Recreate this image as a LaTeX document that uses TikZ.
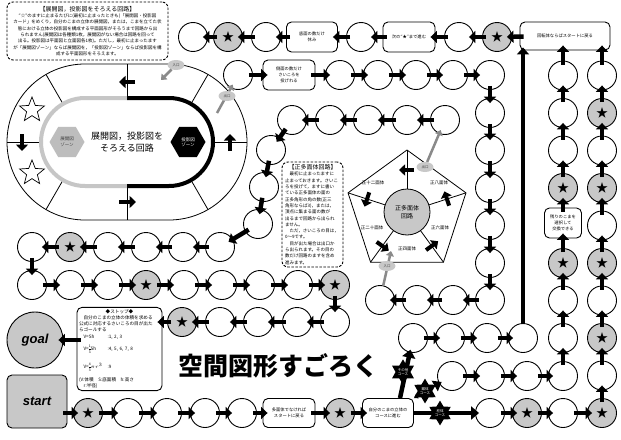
\documentclass[tikz,border=0pt]{standalone}
\usepackage{fontspec}
\newfontfamily\jp{Noto Sans CJK JP}
\newfontfamily\lsans{Liberation Sans}
\usetikzlibrary{arrows.meta,shapes.geometric,calc}
\definecolor{sgray}{HTML}{C8C8C8}
\definecolor{hgray}{HTML}{BDBDBD}
\definecolor{tgray}{HTML}{C6C6C6}
\definecolor{agray}{HTML}{8A8A8A}
\newcommand{\vfr}[2]{\ensuremath{\vcenter{\hbox{\fontsize{3.4}{5.2}\selectfont\begin{tabular}{@{}c@{}}#1\\\hline #2\end{tabular}}}}}
\tikzset{
 sq/.style={circle, draw, line width=0.9pt, fill=white, minimum size=29pt, inner sep=0pt},
 sqs/.style={sq, fill=sgray, font=\jp\fontsize{12}{12}\selectfont},
 fa/.style={line width=4.5pt, -{Triangle[width=12pt,length=6.5pt]}, shorten <=-4pt, shorten >=-5pt},
 darr/.style={line width=4.5pt, -{Triangle[width=12pt,length=6.5pt]}},
 rbox/.style={draw, line width=0.9pt, rounded corners=5pt, fill=white, align=center, font=\jp\fontsize{4.3}{5.8}\selectfont, inner sep=1pt},
 lbl/.style={ellipse, fill=sgray, minimum width=17pt, minimum height=10pt, inner sep=0pt, font=\jp\fontsize{3.5}{4}\selectfont, text=black!75},
 garr/.style={draw=agray, line width=2.5pt, -{Triangle[width=8pt,length=5pt]}},
 badge/.style={star, star points=6, star point ratio=1.7, fill=black, minimum size=22pt, inner sep=0pt, text=white, align=center, font=\jp\fontsize{3.5}{4.1}\selectfont},
 dbox/.style={draw, line width=0.9pt, dash pattern=on 2.5pt off 1.5pt, rounded corners=6pt, fill=white},
 plbl/.style={font=\jp\fontsize{4.5}{5}\selectfont},
}
\begin{document}
\begin{tikzpicture}[x=1pt,y=-1pt]
\useasboundingbox (0,0) rectangle (621,439);

% ---------- note box (top left)
\node[dbox, minimum width=161pt, minimum height=58pt, inner sep=2pt, align=center, font=\jp\fontsize{4.5}{6.3}\selectfont] (note1) at (87.5,31) {{\fontsize{6}{7}\selectfont 【展開図，投影図をそろえる回路】}\\
“☆”のますに止まるたびに(最初に止まったときも)「展開図・投影図\\
カード」をめくり，自分のこまの立体の展開図，または，こまを立てた状\\
態における立体の投影図を構成する平面図形がそろうまで回路から出\\
られません(展開図は各種類1枚，展開図がない場合は回路を回って\\
出る。投影図は平面図と立面図各1枚)。ただし，最初に止まったます\\
が「展開図ゾーン」ならば展開図を，「投影図ゾーン」ならば投影図を構\\
成する平面図形をそろえます。};

% ---------- oval circuit
\draw[line width=0.8pt, fill=white, rounded corners=78pt] (7,64) rectangle (247,220);
\draw[line width=0.8pt] (127,64) -- (127,98) (127,186) -- (127,220) (7,142) -- (41,142) (213,142) -- (247,142);
\draw[line width=0.8pt, shift={(85,142)}] (240:44) -- (240:78) (120:44) -- (120:78);
\draw[line width=0.8pt, shift={(169,142)}] (300:44) -- (300:78) (60:44) -- (60:78);
\begin{scope}
\clip (0,0) rectangle (127,230);
\draw[tgray, line width=4pt, rounded corners=44pt] (41,98) rectangle (213,186);
\end{scope}
\begin{scope}
\clip (127,0) rectangle (260,230);
\draw[black, line width=4pt, rounded corners=44pt] (41,98) rectangle (213,186);
\end{scope}
\node[regular polygon, regular polygon sides=6, fill=hgray, minimum size=35pt, inner sep=0pt, align=center, text=black!75, font=\jp\fontsize{4.5}{5.5}\selectfont] (zt) at (67,142) {展開図\\ゾーン};
\node[regular polygon, regular polygon sides=6, fill=black, minimum size=35pt, inner sep=0pt, align=center, text=white, font=\jp\fontsize{4.5}{5.5}\selectfont] (zp) at (188,142) {投影図\\ゾーン};
\node[align=center, font=\jp\fontsize{9}{12}\selectfont] (ct) at (127,142) {展開図，投影図を\\そろえる回路};
\node[star, star points=5, star point ratio=2.3, draw, line width=0.7pt, minimum size=26pt, inner sep=0pt] (os1) at (32,110) {};
\node[star, star points=5, star point ratio=2.3, draw, line width=0.7pt, minimum size=26pt, inner sep=0pt] (os2) at (32,173) {};
\draw[darr] (135,82) -- (119,82);
\draw[darr] (22,134) -- (22,151);
\draw[darr] (119,202) -- (136,202);
\draw[darr] (230,151) -- (230,134);

% ---------- pentagon circuit
\coordinate (pc) at (407,212);
\draw[line width=0.8pt, fill=white] ($(pc)+(270:62)$) -- ($(pc)+(342:62)$) -- ($(pc)+(54:62)$) -- ($(pc)+(126:62)$) -- ($(pc)+(198:62)$) -- cycle;
\foreach \a in {270,342,54,126,198} \draw[line width=0.8pt] (pc) -- ($(pc)+(\a:62)$);
\node[circle, draw, line width=0.8pt, fill=sgray, minimum size=46pt, align=center, font=\jp\fontsize{6}{8}\selectfont] (pcn) at (pc) {正多面体\\回路};
\node[plbl] (p12) at (373,183) {正十二面体};
\node[plbl] (p8) at (439,183) {正八面体};
\node[plbl] (p6) at (440,228) {正六面体};
\node[plbl] (p20) at (372,228) {正二十面体};
\node[plbl] (p4) at (407,249) {正四面体};
\foreach \a in {270,342,54,126,198} \draw[line width=4pt, -{Triangle[width=11pt,length=6pt]}] ($(pc)+(\a:42)+(\a+90:7)$) -- ($(pc)+(\a:42)+(\a-90:8)$);

% ---------- dashed note (pentagon)
\node[dbox, minimum width=61pt, minimum height=105pt, inner sep=2pt, align=left, font=\jp\fontsize{4.5}{6.3}\selectfont] (note2) at (312.5,214.5) {\makebox[55pt]{\fontsize{6}{7}\selectfont 【正多面体回路】}\\
　最初に止まったますに\\
止まっておきます。さいこ\\
ろを投げて，ますに書い\\
ている正多面体の面の\\
正多角形の角の数(正三\\
角形ならば3)，または，\\
頂点に集まる面の数が\\
出るまで回路から出られ\\
ません。\\
　ただ，さいころの目は，\\
0〜9です。\\
　目が出た場合は出口か\\
ら出られます。その目の\\
数だけ回路のますを含め\\
進みます。};

% ---------- title
\node[font=\jp\bfseries\fontsize{25}{25}\selectfont] (title) at (278,366) {空間図形すごろく};

% ---------- top row
\node[sq] (t1) at (193,37) {};
\node[sqs] (t2) at (228,37) {★};
\node[sq] (t3) at (266,37) {};
\node[rbox, minimum width=51pt, minimum height=30pt] (tb1) at (312,37) {底面の数だけ\\休み};
\node[sq] (t4) at (361,37) {};
\node[rbox, minimum width=52pt, minimum height=30pt] (tb2) at (409,37) {次の“★”まで進む};
\node[sq] (t5) at (459,37) {};
\node[sqs] (t6) at (497,37) {★};
\node[rbox, minimum width=90pt, minimum height=28pt] (tb3) at (565,36) {回転体ならばスタートに戻る};

% ---------- row 2 and column
\node[sq] (r1) at (238,75) {};
\node[rbox, minimum width=52pt, minimum height=30pt] (rb) at (289,75) {側面の数だけ\\さいころを\\投げれる};
\node[sq] (r2) at (340,75) {};
\node[sq] (r3) at (378,75) {};
\node[sq] (r4) at (416,75) {};
\node[sq] (r5) at (453,75) {};
\node[sq] (r6) at (490,75) {};
\node[sq] (d1) at (490,113) {};
\node[sq] (d2) at (490,150) {};
\node[sq] (d3) at (490,188) {};
\node[sq] (d4) at (490,225) {};
\node[sq] (d5) at (490,263) {};
\node[sq] (d6) at (490,300) {};
\node[sq] (e1) at (453,300) {};
\node[sq] (e2) at (417,300) {};
\node[sq] (e3) at (380,300) {};

% ---------- row 3 and chain
\node[sq] (f1) at (445,120) {};
\node[sq] (f2) at (407,120) {};
\node[sq] (f3) at (368,120) {};
\node[sq] (f4) at (330,120) {};
\node[sq] (f5) at (292,120) {};
\node[sq] (g1) at (271,150) {};
\node[sq] (g2) at (264,187) {};
\node[sq] (g3) at (258,224) {};
\node[sq] (h1) at (220,247) {};
\node[sq] (h2) at (183,247) {};
\node[sq] (h3) at (146,247) {};
\node[sq] (h4) at (108,247) {};
\node[sqs] (h5) at (70,247) {★};
\node[sq] (h6) at (32,247) {};
\node[sq] (i1) at (32,285) {};
\node[sq] (i2) at (70,285) {};
\node[sq] (i3) at (108,285) {};
\node[sqs] (i4) at (146,285) {★};
\node[sq] (i5) at (184,285) {};
\node[sq] (i6) at (222,285) {};
\node[sq] (i7) at (260,285) {};
\node[sq] (i8) at (298,285) {};
\node[sqs] (i9) at (335,285) {★};
\node[sq] (j1) at (335,322) {};
\node[sq] (j2) at (297,322) {};
\node[sq] (j3) at (258,322) {};
\node[sq] (j4) at (220,322) {};
\node[sqs] (j5) at (182,322) {★};

% ---------- stop, goal, start
\node[rbox, text width=81pt, align=left, minimum height=82pt, font=\jp\fontsize{4.6}{6.2}\selectfont, inner sep=2pt] (stop) at (119.5,349) {\makebox[81pt]{◆ストップ◆}\\
　自分のこまの立体の体積を求める\\
公式に対応するさいころの目が出た\\
らゴールする\\
　\makebox[24pt][l]{V=Sh}:1, 2, 3\\[4pt]
　\makebox[24pt][l]{V=\vfr{1}{3}Sh}:4, 5, 6, 7, 8\\[6pt]
　\makebox[24pt][l]{V=\vfr{4}{3}$\pi r^{3}$}:9\\[4pt]
(V:体積　S:底面積　h:高さ\\
　r:半径)};
\node[circle, draw, line width=0.9pt, fill=sgray, minimum size=56pt, font=\lsans\bfseries\itshape\fontsize{13}{13}\selectfont] (goal) at (35,340) {goal};
\node[draw, line width=0.9pt, fill=sgray, rounded corners=5pt, minimum width=60pt, minimum height=53pt, font=\lsans\bfseries\itshape\fontsize{13}{13}\selectfont] (start) at (37,401.5) {start};

% ---------- bottom row
\node[sqs] (b1) at (88,413) {★};
\node[sq] (b2) at (128,413) {};
\node[sq] (b3) at (167,413) {};
\node[sq] (b4) at (205,413) {};
\node[sq] (b5) at (242,413) {};
\node[rbox, minimum width=52pt, minimum height=29pt] (bb1) at (289,413) {多面体でなければ\\スタートに戻る};
\node[sqs] (b6) at (340,413) {★};
\node[rbox, minimum width=51pt, minimum height=29pt] (ks) at (388,413) {自分のこまの立体の\\コースに進む};

% ---------- courses
\node[sq] (o1) at (413,338) {};
\node[sq] (o2) at (450,338) {};
\node[sq] (o3) at (487,338) {};
\node[sq] (o4) at (523,338) {};
\node[sq] (k1) at (452,376) {};
\node[sq] (k2) at (490,376) {};
\node[sq] (k3) at (527,376) {};
\node[sq] (k4) at (563,376) {};
\node[sq] (p1) at (490,413) {};
\node[sqs] (p2) at (527,413) {★};
\node[sq] (p3) at (563,413) {};
\node[sqs] (p4s) at (602,413) {★};
\node[sq] (m1) at (563,338) {};
\node[sq] (m2) at (563,300.5) {};
\node[sqs] (m3) at (563,263) {★};
\node[rbox, minimum width=37pt, minimum height=30pt] (mb) at (563,223) {残りのこまを\\選択して\\交換できる};
\node[sqs] (m4) at (563,188) {★};
\node[sq] (m5) at (563,150.5) {};
\node[sq] (m6) at (563,113) {};
\node[sq] (m7) at (563,75.5) {};
\node[sq] (n1) at (602,375.5) {};
\node[sqs] (n2) at (602,338) {★};
\node[sq] (n3) at (602,300.5) {};
\node[sqs] (n4) at (602,263) {★};
\node[sq] (n5) at (602,225.5) {};
\node[sqs] (n6) at (602,188) {★};
\node[sq] (n7) at (602,150.5) {};
\node[sqs] (n8) at (602,113) {★};
\node[sq] (n9) at (602,75.5) {};

% ---------- flow arrows
\draw[fa] (tb3) -- (t6);
\draw[fa] (t6) -- (t5);
\draw[fa] (t5) -- (tb2);
\draw[fa] (tb2) -- (t4);
\draw[fa] (t4) -- (tb1);
\draw[fa] (tb1) -- (t3);
\draw[fa] (t3) -- (t2);
\draw[fa] (t2) -- (t1);
\draw[fa] (r1) -- (rb);
\draw[fa] (rb) -- (r2);
\draw[fa] (r2) -- (r3);
\draw[fa] (r3) -- (r4);
\draw[fa] (r4) -- (r5);
\draw[fa] (r5) -- (r6);
\draw[fa] (r6) -- (d1);
\draw[fa] (d1) -- (d2);
\draw[fa] (d2) -- (d3);
\draw[fa] (d3) -- (d4);
\draw[fa] (d4) -- (d5);
\draw[fa] (d5) -- (d6);
\draw[fa] (d6) -- (e1);
\draw[fa] (e1) -- (e2);
\draw[fa] (e2) -- (e3);
\draw[fa] (f1) -- (f2);
\draw[fa] (f2) -- (f3);
\draw[fa] (f3) -- (f4);
\draw[fa] (f4) -- (f5);
\draw[fa] (f5) -- (g1);
\draw[fa] (g1) -- (g2);
\draw[fa] (g2) -- (g3);
\draw[fa] (g3) -- (h1);
\draw[fa] (h1) -- (h2);
\draw[fa] (h2) -- (h3);
\draw[fa] (h3) -- (h4);
\draw[fa] (h4) -- (h5);
\draw[fa] (h5) -- (h6);
\draw[fa] (h6) -- (i1);
\draw[fa] (i1) -- (i2);
\draw[fa] (i2) -- (i3);
\draw[fa] (i3) -- (i4);
\draw[fa] (i4) -- (i5);
\draw[fa] (i5) -- (i6);
\draw[fa] (i6) -- (i7);
\draw[fa] (i7) -- (i8);
\draw[fa] (i8) -- (i9);
\draw[fa] (i9) -- (j1);
\draw[fa] (j1) -- (j2);
\draw[fa] (j2) -- (j3);
\draw[fa] (j3) -- (j4);
\draw[fa] (j4) -- (j5);
\draw[fa] (j5) -- (j5 -| stop.east);
\draw[fa] (stop.west |- goal) -- (goal);
\draw[fa] (start.east |- b1) -- (b1);
\draw[fa] (b1) -- (b2);
\draw[fa] (b2) -- (b3);
\draw[fa] (b3) -- (b4);
\draw[fa] (b4) -- (b5);
\draw[fa] (b5) -- (bb1);
\draw[fa] (bb1) -- (b6);
\draw[fa] (b6) -- (ks);
\draw[fa] (o1) -- (o2);
\draw[fa] (o2) -- (o3);
\draw[fa] (o3) -- (o4);
\draw[fa] (k1) -- (k2);
\draw[fa] (k2) -- (k3);
\draw[fa] (k3) -- (k4);
\draw[fa] (p1) -- (p2);
\draw[fa] (p2) -- (p3);
\draw[fa] (p3) -- (p4s);
\draw[fa] (k4) -- (m1);
\draw[fa] (m1) -- (m2);
\draw[fa] (m2) -- (m3);
\draw[fa] (m3) -- (mb);
\draw[fa] (mb) -- (m4);
\draw[fa] (m4) -- (m5);
\draw[fa] (m5) -- (m6);
\draw[fa] (m6) -- (m7);
\draw[fa] (m7) -- (m7 |- tb3.south);
\draw[fa] (p4s) -- (n1);
\draw[fa] (n1) -- (n2);
\draw[fa] (n2) -- (n3);
\draw[fa] (n3) -- (n4);
\draw[fa] (n4) -- (n5);
\draw[fa] (n5) -- (n6);
\draw[fa] (n6) -- (n7);
\draw[fa] (n7) -- (n8);
\draw[fa] (n8) -- (n9);
\draw[fa] (n9) -- (n9 |- tb3.south);
\draw[line width=4.5pt, -{Triangle[width=12pt,length=7pt]}, shorten >=-3pt] (o4) -- (o4 |- tb3.south);

% ---------- course arrows
\draw[line width=4.5pt, -{Triangle[width=13pt,length=8pt]}, shorten >=-3pt] ([xshift=12pt]ks.north) -- (o1);
\draw[line width=1.2pt, {Triangle[width=5pt,length=4pt]}-{Triangle[width=12pt,length=8pt]}, shorten >=-3pt] (ks.north east) -- (k1);
\draw[line width=4.5pt, -{Triangle[width=13pt,length=8pt]}, shorten >=-4pt] (ks.east) -- (p1);
\node[badge] (bgA) at (403,372) {その他\\コース};
\node[badge] (bgB) at (425,391) {錐体\\コース};
\node[badge] (bgC) at (440,413) {柱体\\コース};

% ---------- entrances / exits
\coordinate (ovin) at (161,80);
\coordinate (ovex) at (217,113);
\coordinate (pin) at (391,251);
\node[lbl] (in1) at (176,65) {入口};
\draw[garr] (in1) -- (ovin);
\draw[garr, shorten >=-4pt] (ovex) -- (r1);
\node[lbl] (ex1) at (227,96) {出口};
\draw[garr] (e3) -- (pin);
\node[lbl] (in2) at (387,266) {入口};
\node[lbl] (ex2) at (425,167) {出口};
\draw[garr, shorten >=-4pt] (ex2) -- (f1);
\end{tikzpicture}
\end{document}
